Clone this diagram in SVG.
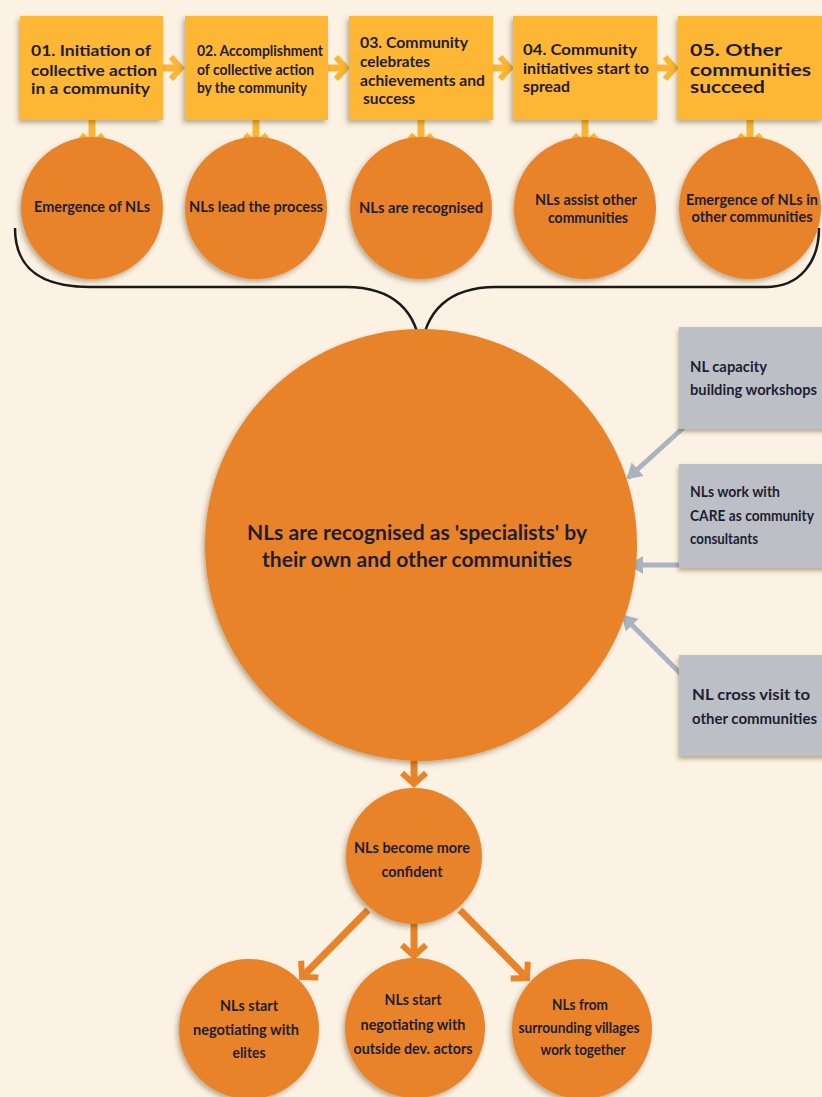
<svg xmlns="http://www.w3.org/2000/svg" width="822" height="1097" viewBox="0 0 822 1097">
<defs>
<style>
.box{fill:#fdb735;filter:url(#sh)}
.circ{fill:#e8832a;filter:url(#sh)}
.gbox{fill:#bcc0c6;filter:url(#sh2)}
.t{font-family:Lato,"Open Sans",sans-serif;font-weight:bold;fill:#1f1d33}
.c{text-anchor:middle}
.ya{stroke:#fbb533;stroke-width:7;fill:none;marker-end:url(#my)}
.oa{stroke:#e8832a;stroke-width:7;fill:none;marker-end:url(#mo)}
.ga{stroke:#aab4be;stroke-width:5;fill:none;marker-end:url(#mg)}
</style>
<filter id="sh" x="-20%" y="-20%" width="140%" height="140%"><feDropShadow dx="-2" dy="3" stdDeviation="2.5" flood-color="#3a2a10" flood-opacity="0.35"/></filter>
<filter id="sh2" x="-20%" y="-20%" width="140%" height="140%"><feDropShadow dx="-1" dy="3" stdDeviation="2" flood-color="#3a2a10" flood-opacity="0.35"/></filter>
<marker id="my" markerUnits="userSpaceOnUse" markerWidth="30" markerHeight="30" viewBox="-15 -15 30 30" refX="0" refY="0" orient="auto"><path d="M-10,-11 L0,0 L-10,11" stroke="#fbb533" stroke-width="6" fill="none"/></marker>
<marker id="mo" markerUnits="userSpaceOnUse" markerWidth="30" markerHeight="30" viewBox="-15 -15 30 30" refX="0" refY="0" orient="auto"><path d="M-11,-12 L0,0 L-11,12" stroke="#e8832a" stroke-width="6" fill="none"/></marker>
<marker id="mg" markerUnits="userSpaceOnUse" markerWidth="30" markerHeight="30" viewBox="-15 -15 30 30" refX="0" refY="0" orient="auto"><path d="M-13,-9 L2,0 L-13,9 Z" fill="#aab4be"/></marker>
</defs>
<rect width="822" height="1097" fill="#fcf2e3"/>

<g id="connectors">
<path class="ya" d="M163,68 L181,68"/>
<path class="ya" d="M328,68 L346,68"/>
<path class="ya" d="M493,68 L510,68"/>
<path class="ya" d="M657,68 L675,68"/>
<path class="ya" d="M92,120 L92,145"/>
<path class="ya" d="M256,120 L256,145"/>
<path class="ya" d="M421,120 L421,145"/>
<path class="ya" d="M585,120 L585,145"/>
<path class="ya" d="M750,120 L750,145"/>
<path id="brace" d="M15,228 C15,268 40,287 90,287 L346,287 C392,287 419,310 421,356 C423,310 450,287 496,287 L766,287 C800,287 819,262 819,228" stroke="#1a1a1a" stroke-width="2.5" fill="none"/>
<path class="ga" d="M683,428 L628,478"/>
<path class="ga" d="M679,565 L630,565"/>
<path class="ga" d="M682,675 L623,616"/>
<path class="oa" d="M414,758 L414,784"/>
<path class="oa" d="M368,910 L302,977"/>
<path class="oa" d="M414,922 L414,956"/>
<path class="oa" d="M460,910 L527,978"/>
</g>

<g id="n1"><rect class="box" x="20" y="16" width="143" height="104"/>
<text class="t" font-size="16"><tspan x="31" y="56" textLength="120" lengthAdjust="spacingAndGlyphs">01. Initiation of</tspan><tspan x="31" y="76" textLength="126" lengthAdjust="spacingAndGlyphs">collective action</tspan><tspan x="31" y="94" textLength="119" lengthAdjust="spacingAndGlyphs">in a community</tspan></text></g>
<g id="n2"><rect class="box" x="185" y="16" width="143" height="104"/>
<text class="t" font-size="15"><tspan x="197" y="56" textLength="126" lengthAdjust="spacingAndGlyphs">02. Accomplishment</tspan><tspan x="197" y="75" textLength="117" lengthAdjust="spacingAndGlyphs">of collective action</tspan><tspan x="197" y="93" textLength="110" lengthAdjust="spacingAndGlyphs">by the community</tspan></text></g>
<g id="n3"><rect class="box" x="349" y="16" width="144" height="104"/>
<text class="t" font-size="15.5"><tspan x="360" y="48" textLength="108" lengthAdjust="spacingAndGlyphs">03. Community</tspan><tspan x="360" y="67" textLength="70" lengthAdjust="spacingAndGlyphs">celebrates</tspan><tspan x="360" y="86" textLength="125" lengthAdjust="spacingAndGlyphs">achievements and</tspan><tspan x="363" y="104" textLength="52" lengthAdjust="spacingAndGlyphs">success</tspan></text></g>
<g id="n4"><rect class="box" x="513" y="16" width="144" height="104"/>
<text class="t" font-size="16"><tspan x="523" y="55" textLength="114" lengthAdjust="spacingAndGlyphs">04. Community</tspan><tspan x="523" y="74" textLength="126" lengthAdjust="spacingAndGlyphs">initiatives start to</tspan><tspan x="523" y="92" textLength="47" lengthAdjust="spacingAndGlyphs">spread</tspan></text></g>
<g id="n5"><rect class="box" x="678" y="16" width="146" height="104"/>
<text class="t" font-size="17"><tspan x="690" y="56" textLength="92" lengthAdjust="spacingAndGlyphs">05. Other</tspan><tspan x="690" y="76" textLength="121" lengthAdjust="spacingAndGlyphs">communities</tspan><tspan x="690" y="93" textLength="75" lengthAdjust="spacingAndGlyphs">succeed</tspan></text></g>

<g id="c1"><circle class="circ" cx="92" cy="208" r="71"/>
<text class="t c" font-size="14.5" x="92" y="212" textLength="116" lengthAdjust="spacingAndGlyphs">Emergence of NLs</text></g>
<g id="c2"><circle class="circ" cx="256" cy="208" r="71"/>
<text class="t c" font-size="14.5" x="256" y="212" textLength="134" lengthAdjust="spacingAndGlyphs">NLs lead the process</text></g>
<g id="c3"><circle class="circ" cx="421" cy="208" r="71"/>
<text class="t c" font-size="14.5" x="421" y="213" textLength="124" lengthAdjust="spacingAndGlyphs">NLs are recognised</text></g>
<g id="c4"><circle class="circ" cx="585" cy="208" r="71"/>
<text class="t c" font-size="14.5"><tspan x="586" y="205" textLength="102" lengthAdjust="spacingAndGlyphs">NLs assist other</tspan><tspan x="588" y="223" textLength="80" lengthAdjust="spacingAndGlyphs">communities</tspan></text></g>
<g id="c5"><circle class="circ" cx="750" cy="208" r="71"/>
<text class="t c" font-size="14.5"><tspan x="752" y="205" textLength="132" lengthAdjust="spacingAndGlyphs">Emergence of NLs in</tspan><tspan x="752" y="222" textLength="121" lengthAdjust="spacingAndGlyphs">other communities</tspan></text></g>

<g id="big"><circle class="circ" cx="421" cy="545" r="216"/>
<text class="t c" font-size="21"><tspan x="417" y="540" textLength="340" lengthAdjust="spacingAndGlyphs">NLs are recognised as 'specialists' by</tspan><tspan x="417" y="567" textLength="310" lengthAdjust="spacingAndGlyphs">their own and other communities</tspan></text></g>

<g id="g1"><rect class="gbox" x="679" y="327" width="150" height="102"/>
<text class="t" font-size="15"><tspan x="690" y="372" textLength="77" lengthAdjust="spacingAndGlyphs">NL capacity</tspan><tspan x="690" y="395" textLength="127" lengthAdjust="spacingAndGlyphs">building workshops</tspan></text></g>
<g id="g2"><rect class="gbox" x="679" y="464" width="150" height="104"/>
<text class="t" font-size="15"><tspan x="690" y="497" textLength="90" lengthAdjust="spacingAndGlyphs">NLs work with</tspan><tspan x="690" y="521" textLength="124" lengthAdjust="spacingAndGlyphs">CARE as community</tspan><tspan x="690" y="544" textLength="68" lengthAdjust="spacingAndGlyphs">consultants</tspan></text></g>
<g id="g3"><rect class="gbox" x="679" y="655" width="150" height="101"/>
<text class="t" font-size="15"><tspan x="692" y="700" textLength="118" lengthAdjust="spacingAndGlyphs">NL cross visit to</tspan><tspan x="692" y="724" textLength="125" lengthAdjust="spacingAndGlyphs">other communities</tspan></text></g>

<g id="conf"><circle class="circ" cx="414" cy="856" r="68"/>
<text class="t c" font-size="15"><tspan x="412" y="853" textLength="116" lengthAdjust="spacingAndGlyphs">NLs become more</tspan><tspan x="412" y="877" textLength="61" lengthAdjust="spacingAndGlyphs">confident</tspan></text></g>
<g id="b1"><circle class="circ" cx="249" cy="1029" r="70"/>
<text class="t c" font-size="15"><tspan x="249" y="1011" textLength="58" lengthAdjust="spacingAndGlyphs">NLs start</tspan><tspan x="246" y="1035" textLength="106" lengthAdjust="spacingAndGlyphs">negotiating with</tspan><tspan x="249" y="1058" textLength="33" lengthAdjust="spacingAndGlyphs">elites</tspan></text></g>
<g id="b2"><circle class="circ" cx="415" cy="1028" r="70"/>
<text class="t c" font-size="15"><tspan x="413" y="1005" textLength="57" lengthAdjust="spacingAndGlyphs">NLs start</tspan><tspan x="413" y="1030" textLength="105" lengthAdjust="spacingAndGlyphs">negotiating with</tspan><tspan x="413" y="1054" textLength="119" lengthAdjust="spacingAndGlyphs">outside dev. actors</tspan></text></g>
<g id="b3"><circle class="circ" cx="582" cy="1029" r="70"/>
<text class="t c" font-size="15"><tspan x="580" y="1010" textLength="56" lengthAdjust="spacingAndGlyphs">NLs from</tspan><tspan x="579" y="1033" textLength="121" lengthAdjust="spacingAndGlyphs">surrounding villages</tspan><tspan x="583" y="1055" textLength="85" lengthAdjust="spacingAndGlyphs">work together</tspan></text></g>
</svg>
